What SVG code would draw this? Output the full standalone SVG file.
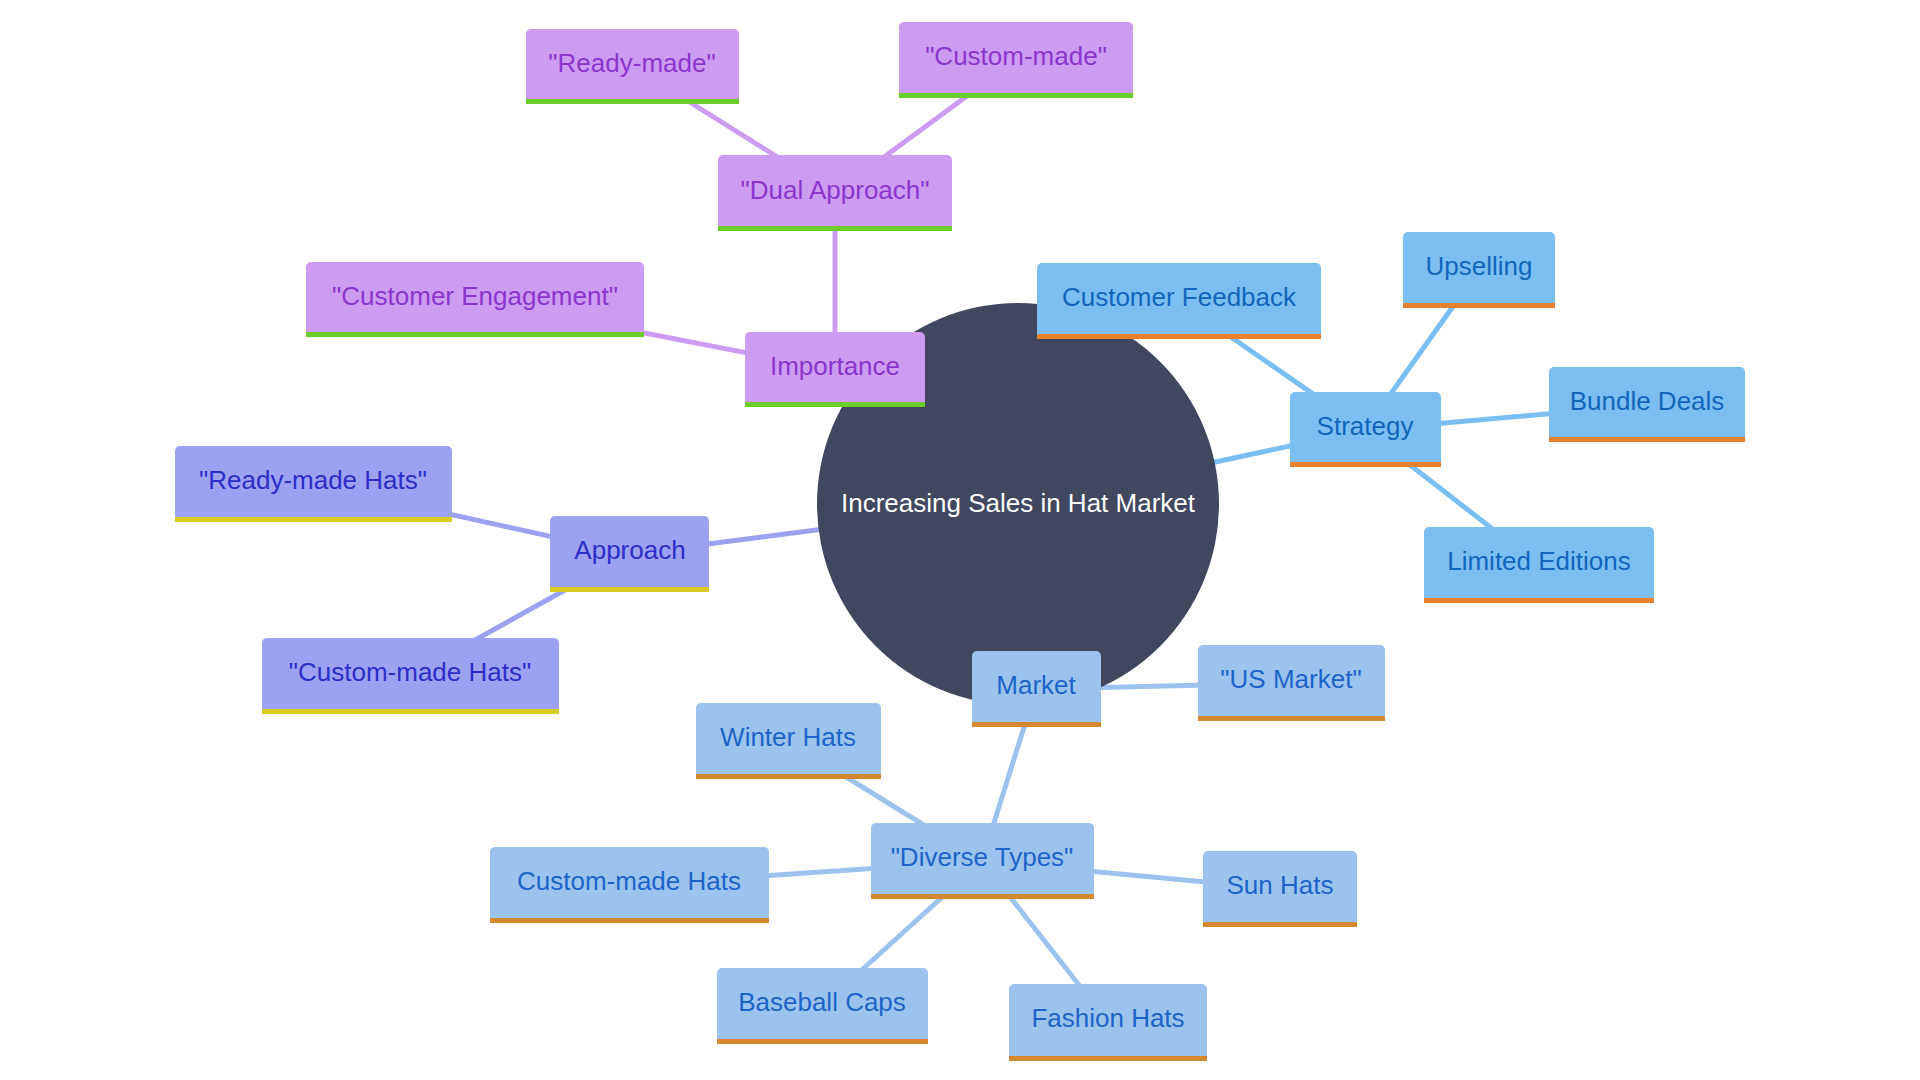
<svg xmlns="http://www.w3.org/2000/svg" width="1920" height="1080" viewBox="0 0 1920 1080">
<style>
text{font-family:"Liberation Sans",Arial,sans-serif;font-size:26px;text-anchor:middle}
.e{stroke-width:5;fill:none;stroke-linecap:butt}
.ep{stroke:#cd9cf2}.ei{stroke:#9ca1f2}.es{stroke:#7bbff2}.em{stroke:#9cc3ee}
.p .b{fill:#cd9cf2}.p .bar{fill:#6acd2a}.p text{fill:#8b35cc}
.i .b{fill:#9ca1f2}.i .bar{fill:#d8cc22}.i text{fill:#2b2fc8}
.s .b{fill:#7bbff2}.s .bar{fill:#e8802e}.s text{fill:#1166bb}
.m .b{fill:#9cc3ee}.m .bar{fill:#d68830}.m text{fill:#1e64c8}
</style>
<rect width="1920" height="1080" fill="#ffffff"/>
<g id="connectors">
<line class="e ep" x1="1018" y1="504" x2="835" y2="370"/>
<line class="e ei" x1="1018" y1="504" x2="630" y2="554"/>
<line class="e es" x1="1018" y1="504" x2="1365" y2="430"/>
<line class="e em" x1="1018" y1="504" x2="1036" y2="689"/>
<line class="e ep" x1="835" y1="370" x2="835" y2="193"/>
<line class="e ep" x1="835" y1="370" x2="475" y2="300"/>
<line class="e ep" x1="835" y1="193" x2="632" y2="66"/>
<line class="e ep" x1="835" y1="193" x2="1016" y2="60"/>
<line class="e ei" x1="630" y1="554" x2="313" y2="484"/>
<line class="e ei" x1="630" y1="554" x2="410" y2="676"/>
<line class="e es" x1="1365" y1="430" x2="1179" y2="301"/>
<line class="e es" x1="1365" y1="430" x2="1479" y2="270"/>
<line class="e es" x1="1365" y1="430" x2="1647" y2="405"/>
<line class="e es" x1="1365" y1="430" x2="1539" y2="565"/>
<line class="e em" x1="1036" y1="689" x2="1291" y2="683"/>
<line class="e em" x1="1036" y1="689" x2="982" y2="861"/>
<line class="e em" x1="982" y1="861" x2="788" y2="741"/>
<line class="e em" x1="982" y1="861" x2="629" y2="885"/>
<line class="e em" x1="982" y1="861" x2="1280" y2="889"/>
<line class="e em" x1="982" y1="861" x2="822" y2="1006"/>
<line class="e em" x1="982" y1="861" x2="1108" y2="1022"/>
</g>
<g id="root">
<circle cx="1018" cy="504" r="201" fill="#424760"/>
<text x="1018" y="512" fill="#ffffff">Increasing Sales in Hat Market</text>
</g>
<g id="n-importance" class="p"><path class="b" d="M745,337a5,5 0 0 1 5,-5h170a5,5 0 0 1 5,5v70h-180z"/><rect class="bar" x="745" y="402" width="180" height="5"/><text x="835" y="375">Importance</text></g>
<g id="n-dual" class="p"><path class="b" d="M718,160a5,5 0 0 1 5,-5h224a5,5 0 0 1 5,5v71h-234z"/><rect class="bar" x="718" y="226" width="234" height="5"/><text x="835" y="199">"Dual Approach"</text></g>
<g id="n-readymade" class="p"><path class="b" d="M526,34a5,5 0 0 1 5,-5h203a5,5 0 0 1 5,5v70h-213z"/><rect class="bar" x="526" y="99" width="213" height="5"/><text x="632" y="72">"Ready-made"</text></g>
<g id="n-custommade" class="p"><path class="b" d="M899,27a5,5 0 0 1 5,-5h224a5,5 0 0 1 5,5v71h-234z"/><rect class="bar" x="899" y="93" width="234" height="5"/><text x="1016" y="65">"Custom-made"</text></g>
<g id="n-engagement" class="p"><path class="b" d="M306,267a5,5 0 0 1 5,-5h328a5,5 0 0 1 5,5v70h-338z"/><rect class="bar" x="306" y="332" width="338" height="5"/><text x="475" y="305">"Customer Engagement"</text></g>
<g id="n-approach" class="i"><path class="b" d="M550,521a5,5 0 0 1 5,-5h149a5,5 0 0 1 5,5v71h-159z"/><rect class="bar" x="550" y="587" width="159" height="5"/><text x="630" y="559">Approach</text></g>
<g id="n-readyhats" class="i"><path class="b" d="M175,451a5,5 0 0 1 5,-5h267a5,5 0 0 1 5,5v71h-277z"/><rect class="bar" x="175" y="517" width="277" height="5"/><text x="313" y="489">"Ready-made Hats"</text></g>
<g id="n-customhats" class="i"><path class="b" d="M262,643a5,5 0 0 1 5,-5h287a5,5 0 0 1 5,5v71h-297z"/><rect class="bar" x="262" y="709" width="297" height="5"/><text x="410" y="681">"Custom-made Hats"</text></g>
<g id="n-strategy" class="s"><path class="b" d="M1290,397a5,5 0 0 1 5,-5h141a5,5 0 0 1 5,5v70h-151z"/><rect class="bar" x="1290" y="462" width="151" height="5"/><text x="1365" y="435">Strategy</text></g>
<g id="n-feedback" class="s"><path class="b" d="M1037,268a5,5 0 0 1 5,-5h274a5,5 0 0 1 5,5v71h-284z"/><rect class="bar" x="1037" y="334" width="284" height="5"/><text x="1179" y="306">Customer Feedback</text></g>
<g id="n-upselling" class="s"><path class="b" d="M1403,237a5,5 0 0 1 5,-5h142a5,5 0 0 1 5,5v71h-152z"/><rect class="bar" x="1403" y="303" width="152" height="5"/><text x="1479" y="275">Upselling</text></g>
<g id="n-bundle" class="s"><path class="b" d="M1549,372a5,5 0 0 1 5,-5h186a5,5 0 0 1 5,5v70h-196z"/><rect class="bar" x="1549" y="437" width="196" height="5"/><text x="1647" y="410">Bundle Deals</text></g>
<g id="n-limited" class="s"><path class="b" d="M1424,532a5,5 0 0 1 5,-5h220a5,5 0 0 1 5,5v71h-230z"/><rect class="bar" x="1424" y="598" width="230" height="5"/><text x="1539" y="570">Limited Editions</text></g>
<g id="n-market" class="m"><path class="b" d="M972,656a5,5 0 0 1 5,-5h119a5,5 0 0 1 5,5v71h-129z"/><rect class="bar" x="972" y="722" width="129" height="5"/><text x="1036" y="694">Market</text></g>
<g id="n-us" class="m"><path class="b" d="M1198,650a5,5 0 0 1 5,-5h177a5,5 0 0 1 5,5v71h-187z"/><rect class="bar" x="1198" y="716" width="187" height="5"/><text x="1291" y="688">"US Market"</text></g>
<g id="n-diverse" class="m"><path class="b" d="M871,828a5,5 0 0 1 5,-5h213a5,5 0 0 1 5,5v71h-223z"/><rect class="bar" x="871" y="894" width="223" height="5"/><text x="982" y="866">"Diverse Types"</text></g>
<g id="n-winter" class="m"><path class="b" d="M696,708a5,5 0 0 1 5,-5h175a5,5 0 0 1 5,5v71h-185z"/><rect class="bar" x="696" y="774" width="185" height="5"/><text x="788" y="746">Winter Hats</text></g>
<g id="n-custom2" class="m"><path class="b" d="M490,852a5,5 0 0 1 5,-5h269a5,5 0 0 1 5,5v71h-279z"/><rect class="bar" x="490" y="918" width="279" height="5"/><text x="629" y="890">Custom-made Hats</text></g>
<g id="n-sun" class="m"><path class="b" d="M1203,856a5,5 0 0 1 5,-5h144a5,5 0 0 1 5,5v71h-154z"/><rect class="bar" x="1203" y="922" width="154" height="5"/><text x="1280" y="894">Sun Hats</text></g>
<g id="n-baseball" class="m"><path class="b" d="M717,973a5,5 0 0 1 5,-5h201a5,5 0 0 1 5,5v71h-211z"/><rect class="bar" x="717" y="1039" width="211" height="5"/><text x="822" y="1011">Baseball Caps</text></g>
<g id="n-fashion" class="m"><path class="b" d="M1009,989a5,5 0 0 1 5,-5h188a5,5 0 0 1 5,5v72h-198z"/><rect class="bar" x="1009" y="1056" width="198" height="5"/><text x="1108" y="1027">Fashion Hats</text></g>
</svg>
